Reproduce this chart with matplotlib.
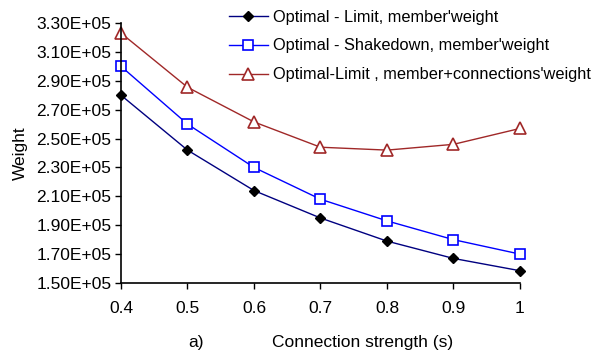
import matplotlib
matplotlib.use("Agg")
import matplotlib.pyplot as plt
from matplotlib.ticker import FuncFormatter

plt.rcParams['font.family'] = ['Liberation Sans', 'DejaVu Sans']

strength = [0.4, 0.5, 0.6, 0.7, 0.8, 0.9, 1.0]
limit_member = [2.80e5, 2.42e5, 2.14e5, 1.95e5, 1.79e5, 1.67e5, 1.585e5]
shakedown_member = [3.00e5, 2.60e5, 2.30e5, 2.08e5, 1.93e5, 1.80e5, 1.70e5]
limit_member_conn = [3.23e5, 2.855e5, 2.615e5, 2.44e5, 2.42e5, 2.46e5, 2.57e5]
labels = ["Optimal - Limit, member'weight",
          "Optimal - Shakedown, member'weight",
          "Optimal-Limit , member+connections'weight"]
yticks = [1.5e5, 1.7e5, 1.9e5, 2.1e5, 2.3e5, 2.5e5, 2.7e5, 2.9e5, 3.1e5, 3.3e5]
xticks = [0.4, 0.5, 0.6, 0.7, 0.8, 0.9, 1.0]

fig = plt.figure(figsize=(5.97, 3.53), dpi=100)
ax = fig.add_axes([121/597, 1 - 283/353, (520-121)/597, (283-23)/353])

ax.plot(strength, limit_member, color='#000080', lw=1, marker='D', ms=5.5,
        mfc='black', mec='black', label=labels[0])
ax.plot(strength, shakedown_member, color='#0000FF', lw=1, marker='s', ms=7,
        mfc='white', mec='#0000FF', mew=1.2, label=labels[1])
ax.plot(strength, limit_member_conn, color='#A02828', lw=1, marker='^', ms=8,
        mfc='white', mec='#A02828', mew=1.2, label=labels[2])

ax.set_xlim(0.4, 1.0)
ax.set_ylim(1.5e5, 3.3e5)
ax.set_xticks(xticks)
ax.set_xticklabels(['0.4', '0.5', '0.6', '0.7', '0.8', '0.9', '1'])
ax.set_yticks(yticks)
ax.yaxis.set_major_formatter(FuncFormatter(lambda v, p: f"{v:.2E}"))
ax.tick_params(labelsize=12.5, direction='out', length=4, width=1, pad=3)
ax.tick_params(axis='x', pad=9)
for s in ['top', 'right']:
    ax.spines[s].set_visible(False)
for s in ['left', 'bottom']:
    ax.spines[s].set_linewidth(1.2)
for ln in ax.lines:
    ln.set_clip_on(False)

ax.set_ylabel('Weight', fontsize=12.5, labelpad=6)
fig.text(363/597, 1 - 342/353, 'Connection strength (s)', fontsize=12.5,
         ha='center', va='center')
fig.text(196/597, 1 - 342/353, 'a)', fontsize=12.5, ha='center', va='center')

leg = fig.legend(loc='upper left', bbox_to_anchor=(222/597, 1 - 3/353),
                 frameon=False, fontsize=11.8, handlelength=2.4,
                 handletextpad=0.3, labelspacing=0.85, borderaxespad=0)

fig.savefig('out.png', dpi=100)
